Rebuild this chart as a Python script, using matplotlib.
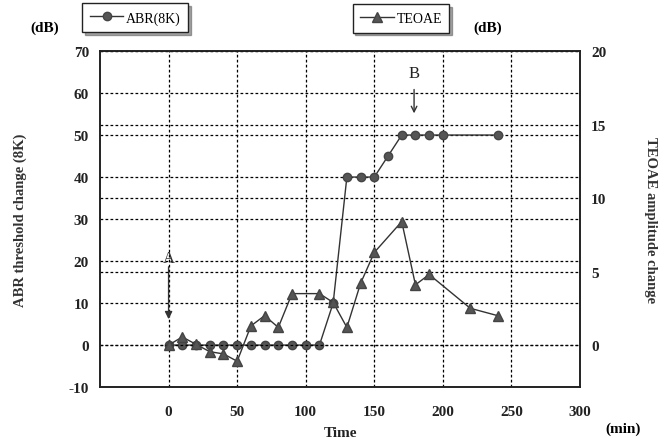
import matplotlib
matplotlib.use('Agg')
import matplotlib.pyplot as plt
from matplotlib.lines import Line2D

plt.rcParams['font.family'] = ['Liberation Serif', 'DejaVu Serif']
plt.rcParams['axes.unicode_minus'] = False

# ABR threshold change (left axis, dB)
abr_time = [0, 10, 20, 30, 40, 50, 60, 70, 80, 90, 100, 110,
            120, 130, 140, 150, 160, 170, 180, 190, 200, 240]
abr_value = [0, 0, 0, 0, 0, 0, 0, 0, 0, 0, 0, 0,
             10, 40, 40, 40, 45, 50, 50, 50, 50, 50]

# TEOAE amplitude change (right axis, dB)
teoae_time = [0, 10, 20, 30, 40, 50, 60, 70, 80, 90, 110,
              120, 130, 140, 150, 170, 180, 190, 220, 240]
teoae_value = [0, 0.55, 0.05, -0.45, -0.6, -1.1, 1.3, 2.0, 1.2, 3.5, 3.5,
               2.9, 1.2, 4.2, 6.3, 8.4, 4.1, 4.8, 2.5, 2.0]

x_ticks = [0, 50, 100, 150, 200, 250, 300]
left_ticks = [-10, 0, 10, 20, 30, 40, 50, 60, 70]
right_ticks = [0, 5, 10, 15, 20]

fig = plt.figure(figsize=(6.69, 4.39), dpi=100)
ax = fig.add_axes([0.1495, 0.116, 0.7175, 0.7655])
ax2 = ax.twinx()

grid_style = dict(color='black', linestyle=(0, (2.2, 1.8)), linewidth=0.9)
ink = '#333333'

ax.plot(abr_time, abr_value, color=ink, linewidth=1.0, marker='o',
        markersize=6, markerfacecolor='#555555', markeredgecolor='#444444', zorder=5)
ax2.plot(teoae_time, teoae_value, color=ink, linewidth=1.0, marker='^',
         markersize=6.5, markerfacecolor='#555555', markeredgecolor='#444444', zorder=5)

ax.set_xlim(-50, 300)
ax.set_ylim(-10, 70)
ax2.set_ylim(-20 / 7, 20)

ax.set_xticks(x_ticks)
ax.set_yticks(left_ticks)
ax2.set_yticks(right_ticks)

ax.grid(True, **grid_style)
ax2.grid(True, axis='y', **grid_style)
ax.set_axisbelow(True)
ax2.set_axisbelow(True)

for a in (ax, ax2):
    a.tick_params(length=0, labelsize=11, pad=8)
    for lab in a.get_xticklabels() + a.get_yticklabels():
        lab.set_fontweight('bold')
        lab.set_color('#222222')
    for s in a.spines.values():
        s.set_linewidth(1.2)
        s.set_color('#222222')
ax.tick_params(axis='x', pad=13)

ax.set_xlabel('Time', fontsize=11, fontweight='bold', color='#222222', labelpad=6)
ax.set_ylabel('ABR threshold change (8K)', fontsize=10.5, fontweight='bold',
              color='#333333', labelpad=30)
ax2.set_ylabel('TEOAE amplitude change', fontsize=10.5, fontweight='bold',
               color='#333333', rotation=-90, labelpad=36)

fig.text(0.045, 0.935, '(dB)', fontsize=11, fontweight='bold', ha='left', va='center')
fig.text(0.707, 0.935, '(dB)', fontsize=11, fontweight='bold', ha='left', va='center')
fig.text(0.905, 0.022, '(min)', fontsize=11, fontweight='bold', ha='left', va='center')

# arrows A and B
ax.annotate('', xy=(0, 5.5), xytext=(0, 19.3),
            arrowprops=dict(arrowstyle='-|>', color='#333333', lw=1.0, mutation_scale=11))
ax.text(0, 20.8, 'A', fontsize=12, ha='center', va='center', color='#333333')
ax.annotate('', xy=(179, 54.5), xytext=(179, 61.5),
            arrowprops=dict(arrowstyle='->', color='#333333', lw=1.0, mutation_scale=10))
ax.text(179, 64.8, 'B', fontsize=12, ha='center', va='center', color='#222222')

# legend boxes above the plot
h_abr = Line2D([], [], color=ink, linewidth=1.0, marker='o', markersize=6,
               markerfacecolor='#555555', markeredgecolor='#444444')
h_teo = Line2D([], [], color=ink, linewidth=1.0, marker='^', markersize=6.5,
               markerfacecolor='#555555', markeredgecolor='#444444')
leg1 = fig.legend([h_abr], ['ABR(8K)'], loc='upper left',
                  bbox_to_anchor=(0.123, 0.99), frameon=True, fancybox=False,
                  shadow=True, edgecolor='#222222', fontsize=10, handlelength=2.4,
                  borderpad=0.55, handletextpad=0.2, borderaxespad=0)
leg2 = fig.legend([h_teo], ['TEOAE'], loc='upper left',
                  bbox_to_anchor=(0.527, 0.988), frameon=True, fancybox=False,
                  shadow=True, edgecolor='#222222', fontsize=10, handlelength=2.4,
                  borderpad=0.55, handletextpad=0.2, borderaxespad=0)

fig.savefig('out.png', dpi=100)
